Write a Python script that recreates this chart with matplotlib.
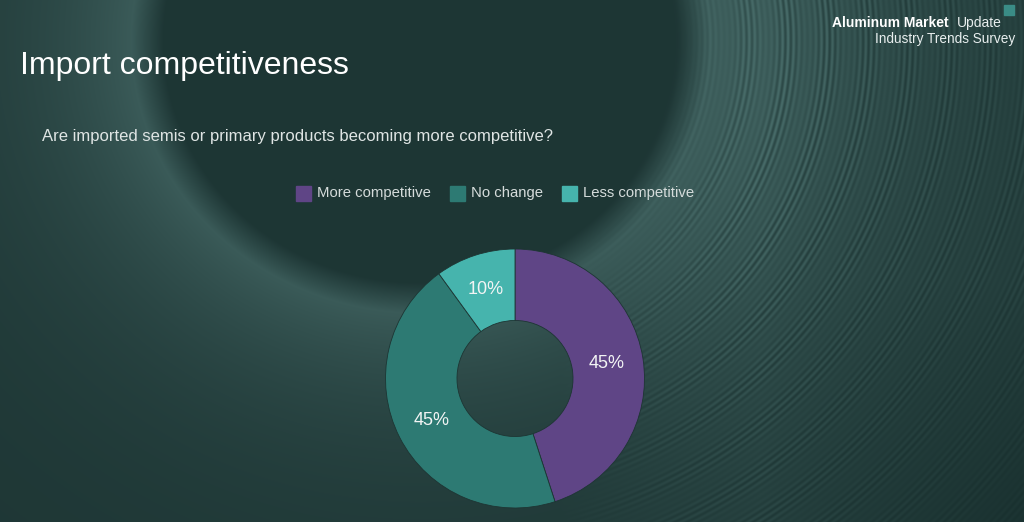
import numpy as np
import matplotlib.pyplot as plt

# chart data
labels = ["More competitive", "No change", "Less competitive"]
shares = [45, 45, 10]
colors = ["#5f4586", "#2d7a73", "#46b4ad"]

title = "Import competitiveness"
question = "Are imported semis or primary products becoming more competitive?"

W, H = 1024, 522
fig = plt.figure(figsize=(W / 100, H / 100), dpi=100)
plt.rcParams['font.family'] = ['Liberation Sans', 'DejaVu Sans']

# background: dark teal swirl
bg = fig.add_axes([0, 0, 1, 1])
bg.set_xlim(0, W)
bg.set_ylim(H, 0)
bg.axis("off")
yy, xx = np.mgrid[0:H, 0:W].astype(float)
cx, cy = 420.0, 40.0
r = np.hypot((xx - cx) / 265.0, (yy - cy) / 250.0)
dark = np.array([0.075, 0.16, 0.155])
light = np.array([0.28, 0.42, 0.41])
glow = np.clip((r - 0.97) / 0.12, 0, 1) * np.exp(-np.clip(r - 1.09, 0, None) * 2.2)
streak_w = np.clip((xx - 560) / 200.0, 0, 1) * np.clip((r - 0.95) * 3, 0, 1)
streak_w *= np.exp(-np.clip(r - 1.5, 0, None) * 1.0)
streaks = 0.5 + 0.5 * np.sin(r * 300) * (0.6 + 0.4 * np.sin(r * 41 + 1.3))
mix = 0.2 + 0.55 * glow + 0.5 * streak_w * streaks
corner = np.clip((xx - 760) / 300.0, 0, 1) * np.clip((yy - 280) / 250.0, 0, 1)
mix = np.clip(mix * (1 - 0.55 * corner), 0, 1)
img = dark[None, None, :] + (light - dark)[None, None, :] * mix[..., None]
bg.imshow(img, extent=(0, W, H, 0), aspect="auto", interpolation="bilinear")

# texts
bg.text(20, 66, title, color="white", fontsize=23, va="center", ha="left")
bg.text(42, 137, question, color="#dfe5e4", fontsize=12, va="center", ha="left")

bg.text(832, 23, "Aluminum Market", color="white", fontsize=10, fontweight="bold",
        va="center", ha="left")
bg.text(1002, 23, "Update", color="#e8eeee", fontsize=10, va="center", ha="right")
bg.text(1015, 39, "Industry Trends Survey", color="#e8eeee", fontsize=9.8,
        va="center", ha="right")
bg.add_patch(plt.Rectangle((1004, 5), 10, 10, color="#3a8c86"))

# legend
xs = [296, 450, 562]
for x, lab, col in zip(xs, labels, colors):
    bg.add_patch(plt.Rectangle((x, 186), 15, 15, color=col))
    bg.text(x + 21, 193, lab, color="#d5dcdb", fontsize=10.7, va="center", ha="left")

# donut
ax = fig.add_axes([(515 - 129.5) / W, (H - 378.5 - 129.5) / H, 259 / W, 259 / H])
wedges, texts, autotexts = ax.pie(
    shares, colors=colors, startangle=90, counterclock=False,
    autopct=lambda p: "%d%%" % round(p), pctdistance=0.72,
    wedgeprops=dict(width=0.552, edgecolor="#1d3533", linewidth=0.6),
    textprops=dict(color="#f2f4f4", fontsize=13),
)
ax.set_xlim(-1, 1)
ax.set_ylim(-1, 1)
ax.set_aspect("equal")
ax.axis("off")

fig.savefig("out.png", dpi=100)
